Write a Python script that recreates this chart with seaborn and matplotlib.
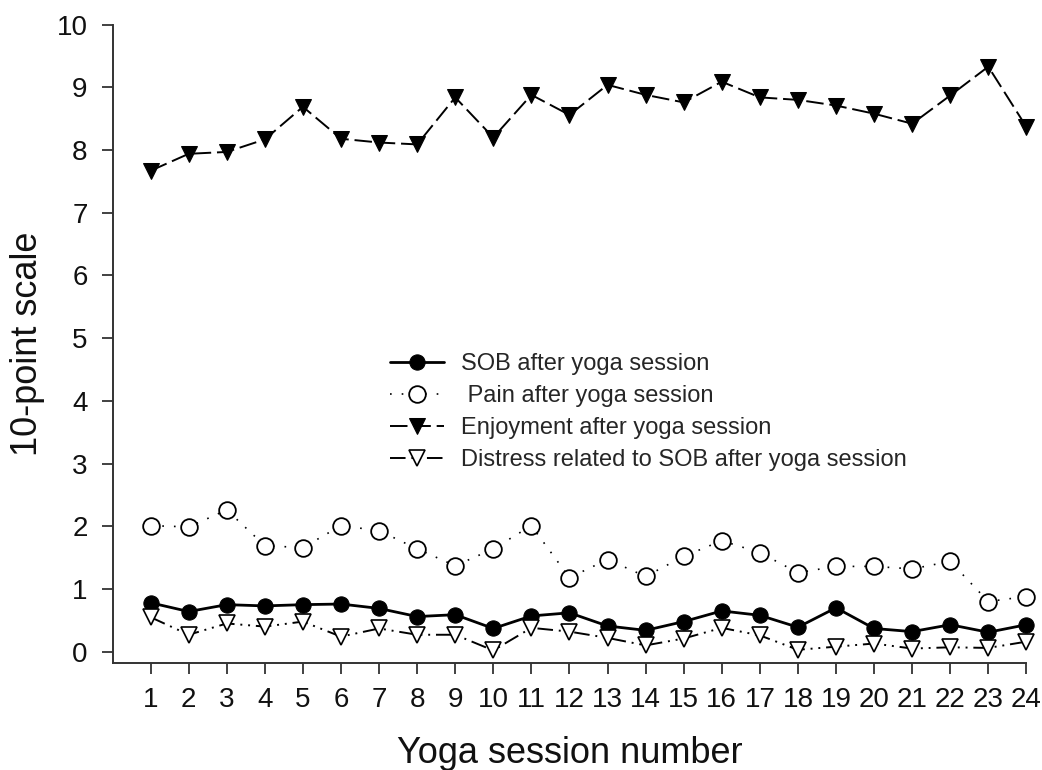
import matplotlib
matplotlib.use("Agg")
import matplotlib.pyplot as plt
import seaborn as sns
import pandas as pd

# session numbers and the four scores
sessions = list(range(1, 25))
sob = [0.78, 0.64, 0.75, 0.73, 0.75, 0.76, 0.69, 0.56, 0.59, 0.37, 0.57, 0.62,
       0.41, 0.34, 0.48, 0.65, 0.58, 0.39, 0.70, 0.37, 0.32, 0.43, 0.31, 0.43]
pain = [2.01, 1.99, 2.26, 1.69, 1.66, 2.01, 1.93, 1.64, 1.37, 1.64, 2.01, 1.18,
        1.47, 1.20, 1.52, 1.77, 1.58, 1.26, 1.36, 1.36, 1.32, 1.44, 0.80, 0.88]
enjoyment = [7.67, 7.94, 7.97, 8.17, 8.69, 8.18, 8.12, 8.09, 8.84, 8.20, 8.88, 8.56,
             9.04, 8.88, 8.76, 9.09, 8.84, 8.80, 8.71, 8.58, 8.42, 8.87, 9.33, 8.37]
distress = [0.55, 0.27, 0.45, 0.40, 0.48, 0.24, 0.37, 0.27, 0.27, 0.02, 0.38, 0.32,
            0.22, 0.10, 0.21, 0.38, 0.26, 0.03, 0.08, 0.13, 0.05, 0.07, 0.06, 0.16]

labels = ['SOB after yoga session', ' Pain after yoga session',
          'Enjoyment after yoga session', 'Distress related to SOB after yoga session']

df = pd.DataFrame({'session': sessions, 'sob': sob, 'pain': pain,
                   'enjoyment': enjoyment, 'distress': distress})

sns.set_style("ticks")
plt.rcParams['font.family'] = ['Liberation Sans', 'DejaVu Sans']

fig = plt.figure(figsize=(10.42, 7.70), dpi=100)
ax = fig.add_axes([0.108, 0.139, 0.877, 0.829])

sns.lineplot(data=df, x='session', y='sob', ax=ax, color='black', linewidth=2.0,
             marker='o', markersize=11, markerfacecolor='black', markeredgecolor='black',
             label=labels[0], clip_on=False)
sns.lineplot(data=df, x='session', y='pain', ax=ax, color='black', linewidth=1.2,
             linestyle=(0, (1, 6)), marker='o', markersize=12, markerfacecolor='white',
             markeredgecolor='black', markeredgewidth=1.3, label=labels[1], clip_on=False)
sns.lineplot(data=df, x='session', y='enjoyment', ax=ax, color='black', linewidth=1.4,
             linestyle=(0, (9, 3)), marker='v', markersize=12, markerfacecolor='black',
             markeredgecolor='black', label=labels[2], clip_on=False)
sns.lineplot(data=df, x='session', y='distress', ax=ax, color='black', linewidth=1.4,
             linestyle=(0, (8, 3, 1, 3, 1, 3)), marker='v', markersize=12,
             markerfacecolor='white', markeredgecolor='black', markeredgewidth=1.2,
             label=labels[3], clip_on=False)

ax.set_xlim(0, 24)
ax.set_ylim(-0.18, 10)
ax.set_xticks(sessions)
ax.set_yticks(range(0, 11))
ax.tick_params(axis='both', labelsize=20, length=8, width=1.3, color='#333333',
               labelcolor='#111111', direction='out')
ax.tick_params(axis='x', pad=9)
ax.tick_params(axis='y', pad=10)
for side in ['top', 'right']:
    ax.spines[side].set_visible(False)
for side in ['left', 'bottom']:
    ax.spines[side].set_linewidth(1.4)
    ax.spines[side].set_color('#333333')

ax.set_xlabel('Yoga session number', fontsize=26, color='#111111', labelpad=17)
ax.set_ylabel('10-point scale', fontsize=26, color='#111111', labelpad=8)

ax.legend(loc='upper left', bbox_to_anchor=(0.374, 0.541), bbox_transform=fig.transFigure,
          frameon=False, fontsize=17, handlelength=2.3, handletextpad=0.7,
          labelspacing=0.42, borderpad=0, borderaxespad=0)

fig.savefig('out.png', dpi=100)
